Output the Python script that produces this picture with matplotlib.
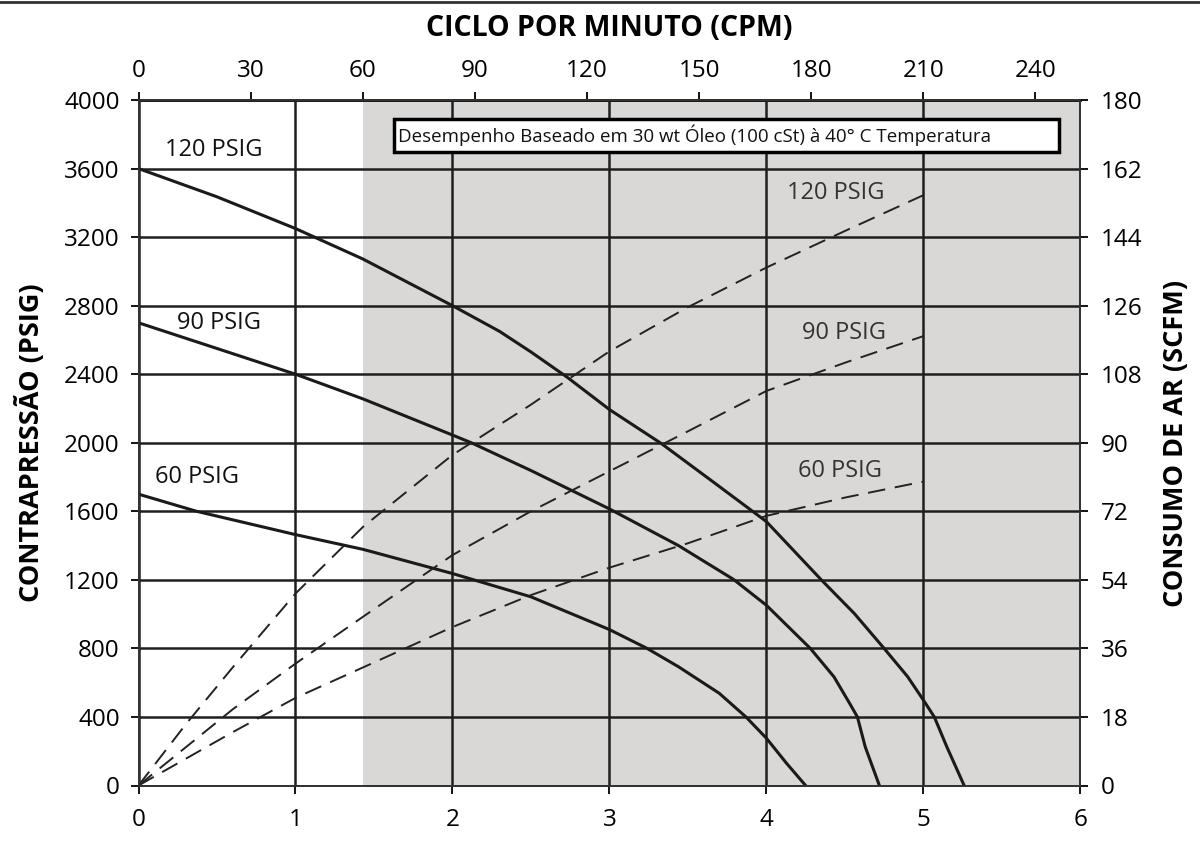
import matplotlib
matplotlib.use("Agg")
import matplotlib.pyplot as plt
from matplotlib.patches import Rectangle
from matplotlib.lines import Line2D
import numpy as np

plt.rcParams['font.family'] = ['Open Sans', 'DejaVu Sans']

# curvas de desempenho: vazão (eixo inferior) x contrapressão (PSIG)
flow_120 = [0, 0.5, 1.0, 1.43, 2.0, 2.3, 2.5, 2.73, 3.0, 3.33, 3.65, 4.0, 4.35,
            4.56, 4.75, 4.9, 5.0, 5.07, 5.15, 5.26]
psig_120 = [3600, 3435, 3250, 3072, 2800, 2650, 2530, 2383, 2194, 1996, 1779, 1540, 1200,
            1004, 800, 635, 499, 400, 225, 0]

flow_90 = [0, 0.5, 1.0, 1.43, 2.0, 2.12, 2.5, 3.0, 3.44, 3.79, 4.0, 4.28, 4.43, 4.53,
           4.58, 4.63, 4.72]
psig_90 = [2700, 2550, 2400, 2256, 2045, 2000, 1838, 1614, 1400, 1203, 1052, 800, 635, 480,
           400, 225, 0]

flow_60 = [0, 0.37, 1.0, 1.43, 2.0, 2.5, 3.0, 3.24, 3.44, 3.7, 3.87, 4.0, 4.13, 4.25]
psig_60 = [1700, 1600, 1464, 1378, 1237, 1101, 910, 800, 693, 538, 400, 276, 128, 0]

# consumo de ar (SCFM)
flow_air = [0, 0.3, 0.6, 1.0, 1.43, 2.0, 2.5, 3.0, 3.5, 4.0, 4.5, 5.0]
scfm_120 = [0, 16, 31, 50.4, 67.9, 86.8, 100, 114, 125.6, 136, 145.6, 155]
scfm_90 = [0, 10, 20, 32, 44.3, 60.5, 72, 82.5, 93, 103.6, 111, 118]
scfm_60 = [0, 7, 14, 23, 31, 41.6, 50, 57.2, 63.6, 70.8, 75.6, 79.8]

left_ticks = np.arange(0, 4001, 400)
right_ticks = np.arange(0, 181, 18)
top_ticks = np.arange(0, 241, 30)
bottom_ticks = np.arange(0, 7, 1)
cpm_per_unit = 42
shade_start_cpm = 60

nota = "Desempenho Baseado em 30 wt Óleo (100 cSt) à 40° C Temperatura"

ink = '#1a1a1a'
fig = plt.figure(figsize=(12, 8.43), dpi=100)
ax = fig.add_axes([138.5/1200, 1-785.5/843, (1080.3-138.5)/1200, (785.5-100)/843])

ax.set_xlim(0, 6)
ax.set_ylim(0, 4000)
ax.axvspan(shade_start_cpm/cpm_per_unit, 6, color='#d9d8d6', zorder=0, lw=0)
ax.set_xticks(bottom_ticks)
ax.set_yticks(left_ticks)
ax.grid(True, color='#1e1e1e', lw=1.8)
ax.set_axisbelow(True)

ax.plot(flow_120, psig_120, color=ink, lw=2.2, zorder=4)
ax.plot(flow_90, psig_90, color=ink, lw=2.2, zorder=4)
ax.plot(flow_60, psig_60, color=ink, lw=2.2, zorder=4)

ax.text(0.17, 3708, "120 PSIG", fontsize=17, va='center', ha='left', color='#111')
ax.text(0.243, 2698, "90 PSIG", fontsize=17, va='center', ha='left', color='#111')
ax.text(0.105, 1800, "60 PSIG", fontsize=17, va='center', ha='left', color='#111')

# caixa com a nota
ax.add_patch(Rectangle((1.627, 3696), 5.863-1.627, 3889-3696, facecolor='white',
                       edgecolor='black', lw=2.5, zorder=5))
ax.text(1.655, 3793, nota, fontsize=13.5, va='center', ha='left', zorder=6, color='#111')

ax2 = ax.twinx()
ax2.set_ylim(0, 180)
ax2.set_yticks(right_ticks)
ax2.plot(flow_air, scfm_120, color='#222', lw=1.4, dashes=(9, 5))
ax2.plot(flow_air, scfm_90, color='#222', lw=1.4, dashes=(9, 5))
ax2.plot(flow_air, scfm_60, color='#222', lw=1.4, dashes=(9, 5))
ax2.text(4.13, 155.5, "120 PSIG", fontsize=17, va='center', ha='left', color='#333')
ax2.text(4.23, 118.8, "90 PSIG", fontsize=17, va='center', ha='left', color='#333')
ax2.text(4.2, 82.5, "60 PSIG", fontsize=17, va='center', ha='left', color='#333')

top = ax.secondary_xaxis('top', functions=(lambda x: x*cpm_per_unit, lambda c: c/cpm_per_unit))
top.set_xticks(top_ticks)

for a in (ax, ax2):
    for s in a.spines.values():
        s.set_color('#333')
        s.set_linewidth(1.3)
ax.tick_params(axis='y', direction='out', length=6, width=1.3, labelsize=17.5, pad=7.5)
ax.tick_params(axis='x', direction='out', length=6, width=1.3, labelsize=17.5, pad=10)
ax2.tick_params(axis='y', direction='out', length=6, width=1.3, labelsize=17.5, pad=8.5)
top.tick_params(axis='x', direction='out', length=6, width=1.3, labelsize=17.5, pad=6.5)
top.spines['top'].set_linewidth(2)

fig.text(0.5077, 1-28/843, "CICLO POR MINUTO (CPM)", fontsize=20.5, fontweight='bold',
         ha='center', va='center')
fig.text(30/1200, 1-443/843, "CONTRAPRESSÃO (PSIG)", fontsize=19.5, fontweight='bold',
         rotation=90, ha='center', va='center')
fig.text(1176/1200, 1-443/843, "CONSUMO DE AR (SCFM)", fontsize=19.5, fontweight='bold',
         rotation=90, ha='center', va='center')
fig.add_artist(Line2D([0, 1], [1-1.5/843, 1-1.5/843], color='#333', lw=2))

fig.savefig("out.png", dpi=100)
